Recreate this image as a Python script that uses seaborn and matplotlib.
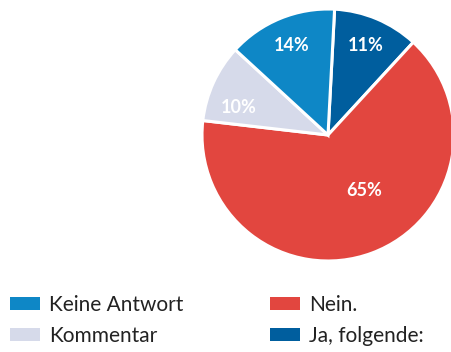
import matplotlib
matplotlib.use("Agg")
import matplotlib.pyplot as plt
from matplotlib.patches import Patch
import seaborn as sns

# Survey answers (percent), drawn clockwise from the top
categories = ["Ja, folgende:", "Nein.", "Kommentar", "Keine Antwort"]
values = [11, 65, 10, 14]
colors = ["#005E9E", "#E2463F", "#D6DAEA", "#0E87C6"]
legend_columns = [["Keine Antwort", "Kommentar"], ["Nein.", "Ja, folgende:"]]

sns.set_theme(style="white")
plt.rcParams["font.family"] = ["Lato", "DejaVu Sans"]

W, H = 451, 352
fig = plt.figure(figsize=(W / 100, H / 100), dpi=100)

cx, cy, r = 328, 135, 126
pad = 1.02
ax = fig.add_axes([(cx - r * pad) / W, (H - cy - r * pad) / H,
                   2 * r * pad / W, 2 * r * pad / H])

palette = sns.color_palette(colors)
wedges, texts, autotexts = ax.pie(
    values, colors=palette, startangle=87, counterclock=False,
    autopct=lambda p: f"{p:.0f}%", pctdistance=0.77,
    wedgeprops=dict(edgecolor="white", linewidth=2.2),
    textprops=dict(color="white", fontsize=13, fontweight="bold"),
)
for w in wedges:
    w.set_clip_on(False)
# hand-placed labels for the large and the small grey slice
autotexts[1].set_position((0.29, -0.44))
autotexts[2].set_position((-0.71, 0.22))

ax.set_xlim(-pad, pad)
ax.set_ylim(-pad, pad)
ax.set_aspect("equal")
ax.axis("off")

color_of = dict(zip(categories, colors))
for labels, x0 in zip(legend_columns, [-0.006, 0.57]):
    handles = [Patch(facecolor=color_of[c], edgecolor="none") for c in labels]
    fig.legend(handles, labels, ncol=1, frameon=False,
               loc="upper left", bbox_to_anchor=(x0, 0.197),
               fontsize=15, handlelength=1.45, handleheight=0.6,
               handletextpad=0.45, labelspacing=0.5,
               labelcolor="#222222", borderaxespad=0.2)

fig.savefig("out.png", dpi=100)
